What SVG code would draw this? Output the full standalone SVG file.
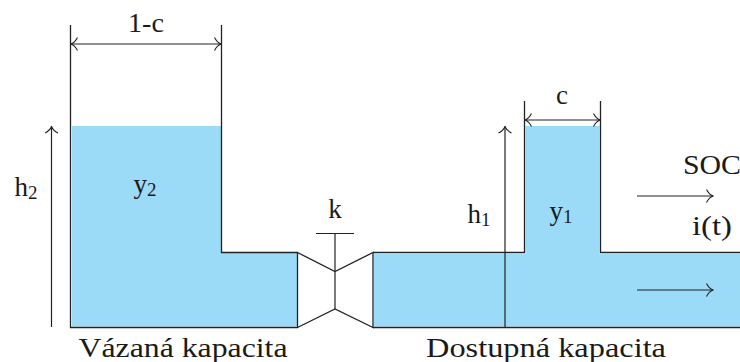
<svg xmlns="http://www.w3.org/2000/svg" width="740" height="362" viewBox="0 0 740 362">
<style>
text{font-family:"Liberation Serif","DejaVu Serif",serif;font-size:27px;fill:#1a1a1a;text-anchor:middle}
.s{font-size:19px}
.w{fill:none;stroke:#222;stroke-width:1.3}
.l{fill:none;stroke:#222;stroke-width:1.2}
.b{fill:#9cdbf8}
</style>
<defs>
<marker id="a" viewBox="-9 -7 10 14" markerWidth="10" markerHeight="14" refX="0" refY="0" orient="auto-start-reverse" markerUnits="userSpaceOnUse"><path d="M-6.500-6.500Q-4-1.500 0 0Q-4 1.500-6.500 6.500" fill="none" stroke="#222" stroke-width="1.1"/></marker>
</defs>
<g id="liquid">
<rect class="b" x="72" y="126" width="149" height="127"/>
<rect class="b" x="72" y="252" width="225" height="74.500"/>
<rect class="b" x="374" y="254" width="366" height="72.500"/>
<rect class="b" x="525.500" y="126" width="74" height="128"/>
</g>
<g id="left-tank">
<path class="w" d="M70.500 25V327.500H297.500V252.500H221.500V25"/>
</g>
<g id="valve">
<path class="w" d="M297.500 252.500L335 271.500L373 252.500V327.500L335 309L297.500 327.500"/>
<path class="l" d="M335 233V309M316 233.500H354"/>
</g>
<g id="right-tank">
<path class="w" d="M373 252.500H524.500V101M600.500 101V252.500H740M373 327.500H740"/>
</g>
<g id="connectors">
<path class="l" d="M71 44H221" marker-start="url(#a)" marker-end="url(#a)"/>
<path class="l" d="M525 120H600" marker-start="url(#a)" marker-end="url(#a)"/>
<path class="l" d="M51.500 327V126.500" marker-end="url(#a)"/>
<path class="l" d="M505 327.500V126.500" marker-end="url(#a)"/>
<path class="l" d="M637 196H713" marker-end="url(#a)"/>
<path class="l" d="M637 290H713" marker-end="url(#a)"/>
</g>
<g id="labels">
<text x="146" y="32" textLength="36" lengthAdjust="spacingAndGlyphs">1-c</text>
<text x="26" y="196">h<tspan class="s" dy="3">2</tspan></text>
<text x="145" y="193">y<tspan class="s" dy="3">2</tspan></text>
<text x="335" y="218">k</text>
<text x="479" y="223">h<tspan class="s" dy="3">1</tspan></text>
<text x="561" y="220">y<tspan class="s" dy="3">1</tspan></text>
<text x="562" y="104">c</text>
<text x="712" y="174" textLength="58" lengthAdjust="spacingAndGlyphs">SOC</text>
<text x="712" y="235" textLength="40" lengthAdjust="spacingAndGlyphs">i(t)</text>
<text x="183" y="357" textLength="209" lengthAdjust="spacingAndGlyphs">Vázaná kapacita</text>
<text x="546" y="357" textLength="240" lengthAdjust="spacingAndGlyphs">Dostupná kapacita</text>
</g>
</svg>
